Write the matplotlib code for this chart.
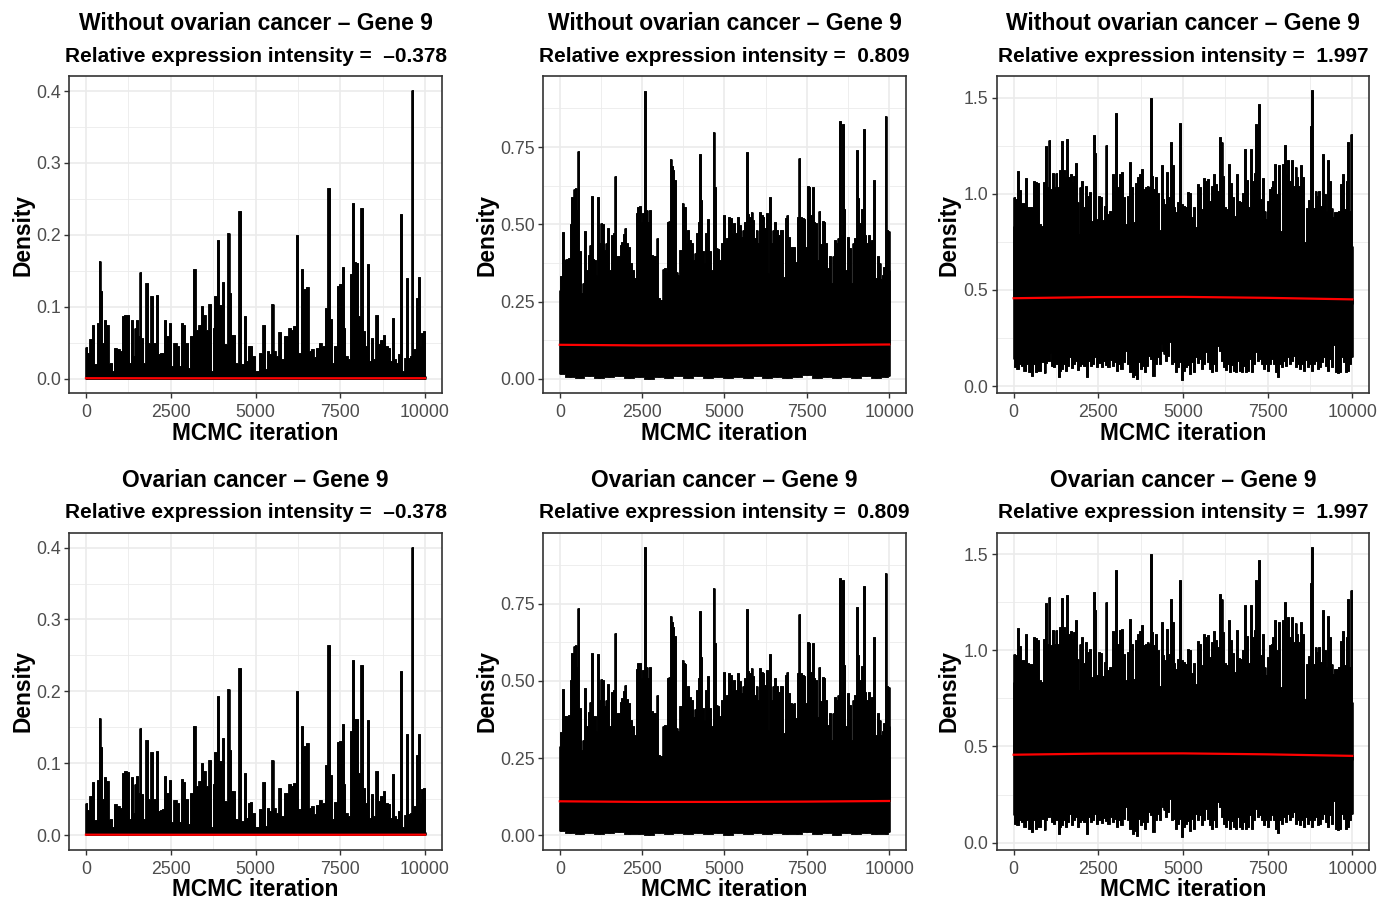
#!/usr/bin/env python3
"""MCMC trace plots - gene 9, three expression intensities, two groups"""
import numpy as np
import matplotlib
matplotlib.use("Agg")
import matplotlib.pyplot as plt

plt.rcParams['font.family'] = ['Liberation Sans', 'DejaVu Sans']

row_titles = ["Without ovarian cancer – Gene 9", "Ovarian cancer – Gene 9"]
intensity = ["–0.378", "0.809", "1.997"]
x_ticks = [0, 2500, 5000, 7500, 10000]

# ── traces: (iteration, value) of the upper / lower edge ──
trace1_hi = [
    (0, 0.044), (69, 0.035), (138, 0.055), (217, 0.074), (286, 0.021), (364, 0.077),
    (404, 0.163), (453, 0.122), (512, 0.050), (561, 0.081), (630, 0.075), (729, 0.022),
    (788, 0.011), (857, 0.043), (955, 0.041), (1024, 0.038), (1084, 0.087), (1152, 0.089),
    (1251, 0.088), (1300, 0.022), (1349, 0.081), (1418, 0.031), (1458, 0.071), (1517, 0.082),
    (1556, 0.059), (1606, 0.149), (1655, 0.057), (1714, 0.022), (1793, 0.133), (1842, 0.050),
    (1940, 0.115), (2009, 0.050), (2098, 0.117), (2157, 0.034), (2216, 0.035), (2285, 0.036),
    (2344, 0.082), (2403, 0.059), (2472, 0.077), (2531, 0.018), (2630, 0.049), (2728, 0.045),
    (2758, 0.018), (2837, 0.078), (2896, 0.074), (2975, 0.050), (3024, 0.015), (3103, 0.059),
    (3201, 0.152), (3270, 0.068), (3349, 0.075), (3418, 0.101), (3487, 0.089), (3566, 0.068),
    (3645, 0.104), (3713, 0.011), (3763, 0.071), (3812, 0.115), (3901, 0.193), (3960, 0.103),
    (4039, 0.135), (4107, 0.048), (4206, 0.203), (4255, 0.119), (4314, 0.061), (4373, 0.061),
    (4433, 0.022), (4531, 0.233), (4600, 0.020), (4698, 0.087), (4748, 0.024), (4817, 0.045),
    (4866, 0.046), (4945, 0.031), (5024, 0.011), (5073, 0.011), (5142, 0.036), (5240, 0.074),
    (5319, 0.013), (5358, 0.038), (5437, 0.034), (5506, 0.104), (5555, 0.038), (5634, 0.031),
    (5713, 0.065), (5782, 0.027), (5880, 0.059), (5930, 0.059), (6009, 0.071), (6077, 0.068),
    (6146, 0.073), (6225, 0.200), (6284, 0.036), (6373, 0.152), (6452, 0.124), (6531, 0.128),
    (6600, 0.038), (6668, 0.041), (6767, 0.030), (6816, 0.042), (6915, 0.049), (7013, 0.045),
    (7082, 0.098), (7161, 0.265), (7230, 0.083), (7289, 0.022), (7358, 0.046), (7447, 0.129),
    (7506, 0.131), (7575, 0.155), (7624, 0.071), (7683, 0.031), (7762, 0.027), (7821, 0.145),
    (7890, 0.244), (7939, 0.162), (8008, 0.161), (8057, 0.087), (8136, 0.237), (8195, 0.066),
    (8274, 0.045), (8313, 0.160), (8373, 0.024), (8441, 0.057), (8500, 0.027), (8570, 0.089),
    (8638, 0.048), (8707, 0.054), (8786, 0.061), (8865, 0.045), (8934, 0.043), (9003, 0.024),
    (9062, 0.085), (9111, 0.027), (9180, 0.022), (9229, 0.034), (9298, 0.229), (9358, 0.011),
    (9426, 0.028), (9476, 0.140), (9535, 0.029), (9594, 0.031), (9623, 0.401), (9692, 0.041),
    (9752, 0.112), (9811, 0.141), (9870, 0.045), (9919, 0.064), (9968, 0.066), (10000, 0.004),
]
trace1_lo = [(0, 0.0), (10000, 0.0)]

trace2_hi = [
    (0, 0.288), (30, 0.333), (101, 0.474), (152, 0.385), (203, 0.387), (284, 0.390),
    (334, 0.501), (365, 0.589), (415, 0.578), (446, 0.613), (486, 0.616), (527, 0.546),
    (567, 0.737), (618, 0.412), (679, 0.277), (719, 0.310), (770, 0.478), (810, 0.353),
    (891, 0.400), (922, 0.433), (983, 0.591), (1013, 0.387), (1064, 0.385), (1114, 0.336),
    (1175, 0.587), (1216, 0.439), (1266, 0.505), (1317, 0.501), (1368, 0.417), (1418, 0.439),
    (1469, 0.489), (1520, 0.353), (1580, 0.465), (1641, 0.471), (1682, 0.656), (1742, 0.396),
    (1803, 0.396), (1844, 0.433), (1894, 0.444), (1945, 0.468), (1985, 0.487), (2026, 0.441),
    (2087, 0.428), (2148, 0.374), (2208, 0.353), (2269, 0.326), (2330, 0.538), (2381, 0.557),
    (2431, 0.559), (2482, 0.508), (2532, 0.535), (2573, 0.933), (2634, 0.546), (2684, 0.508),
    (2735, 0.546), (2806, 0.401), (2856, 0.396), (2917, 0.396), (2958, 0.455), (3009, 0.261),
    (3059, 0.256), (3100, 0.256), (3140, 0.355), (3201, 0.358), (3242, 0.347), (3282, 0.508),
    (3323, 0.512), (3363, 0.710), (3403, 0.689), (3444, 0.675), (3495, 0.645), (3546, 0.347),
    (3596, 0.336), (3667, 0.417), (3728, 0.568), (3768, 0.557), (3809, 0.555), (3849, 0.441),
    (3900, 0.482), (3961, 0.449), (4022, 0.439), (4072, 0.383), (4113, 0.408), (4153, 0.471),
    (4214, 0.508), (4255, 0.727), (4295, 0.578), (4336, 0.412), (4397, 0.374), (4437, 0.471),
    (4498, 0.516), (4559, 0.412), (4620, 0.353), (4670, 0.799), (4711, 0.621), (4761, 0.422),
    (4812, 0.419), (4863, 0.385), (4934, 0.439), (4984, 0.530), (5024, 0.444), (5085, 0.455),
    (5136, 0.525), (5197, 0.519), (5247, 0.471), (5298, 0.503), (5359, 0.471), (5419, 0.525),
    (5470, 0.498), (5531, 0.460), (5571, 0.482), (5632, 0.508), (5683, 0.734), (5723, 0.533),
    (5774, 0.525), (5824, 0.541), (5875, 0.514), (5926, 0.455), (5976, 0.482), (6027, 0.439),
    (6078, 0.541), (6128, 0.530), (6179, 0.525), (6230, 0.487), (6280, 0.535), (6331, 0.342),
    (6381, 0.587), (6432, 0.439), (6483, 0.482), (6533, 0.508), (6605, 0.482), (6665, 0.465),
    (6706, 0.482), (6757, 0.482), (6817, 0.331), (6868, 0.519), (6909, 0.530), (6969, 0.460),
    (7020, 0.428), (7071, 0.426), (7121, 0.428), (7172, 0.379), (7223, 0.525), (7273, 0.716),
    (7324, 0.525), (7375, 0.519), (7425, 0.516), (7476, 0.428), (7527, 0.624), (7578, 0.621),
    (7628, 0.530), (7679, 0.621), (7729, 0.508), (7780, 0.503), (7830, 0.383), (7881, 0.544),
    (7932, 0.436), (7982, 0.512), (8033, 0.508), (8083, 0.439), (8154, 0.358), (8205, 0.396),
    (8256, 0.310), (8306, 0.396), (8357, 0.449), (8407, 0.439), (8458, 0.455), (8509, 0.834),
    (8549, 0.465), (8590, 0.826), (8641, 0.551), (8692, 0.353), (8752, 0.460), (8813, 0.422),
    (8864, 0.310), (8914, 0.439), (8965, 0.455), (9016, 0.740), (9066, 0.584), (9117, 0.503),
    (9168, 0.548), (9239, 0.807), (9279, 0.465), (9320, 0.439), (9381, 0.465), (9431, 0.444),
    (9482, 0.448), (9543, 0.643), (9604, 0.326), (9654, 0.396), (9705, 0.374), (9755, 0.323),
    (9796, 0.336), (9847, 0.363), (9887, 0.849), (9928, 0.482), (9979, 0.479), (10000, 0.353),
]
trace2_lo = [
    (0, 0.015), (300, 0.006), (600, 0.004), (900, 0.008), (1200, 0.003), (1500, 0.006),
    (1800, 0.010), (2100, 0.004), (2400, 0.005), (2700, 0.000), (3000, 0.006), (3300, 0.003),
    (3600, 0.008), (3900, 0.004), (4200, 0.009), (4500, 0.003), (4800, 0.006), (5100, 0.002),
    (5400, 0.007), (5700, 0.004), (6000, 0.009), (6300, 0.003), (6600, 0.006), (6900, 0.003),
    (7200, 0.005), (7500, 0.011), (7800, 0.004), (8100, 0.007), (8400, 0.001), (8700, 0.006),
    (9000, 0.004), (9300, 0.008), (9600, 0.003), (9900, 0.005), (10000, 0.010),
]

trace3_hi = [
    (0, 0.835), (20, 0.983), (79, 0.974), (138, 1.118), (197, 1.021), (256, 0.951),
    (305, 0.951), (355, 1.083), (414, 0.934), (473, 0.931), (532, 0.931), (591, 1.069),
    (650, 1.064), (719, 1.056), (788, 0.844), (847, 0.833), (906, 1.061), (955, 1.247),
    (1005, 1.035), (1054, 1.278), (1103, 1.026), (1162, 1.108), (1211, 1.035), (1261, 1.108),
    (1310, 1.035), (1379, 1.122), (1428, 1.274), (1477, 1.122), (1527, 1.087), (1576, 1.286),
    (1635, 1.087), (1684, 1.101), (1734, 1.061), (1773, 1.095), (1832, 1.160), (1891, 0.957),
    (1921, 0.792), (1970, 1.035), (2029, 1.069), (2088, 0.934), (2147, 1.043), (2206, 0.991),
    (2266, 1.009), (2325, 0.861), (2364, 1.304), (2413, 1.212), (2462, 0.870), (2522, 0.991),
    (2581, 0.986), (2640, 0.865), (2699, 0.939), (2738, 1.252), (2797, 0.896), (2857, 0.913),
    (2926, 1.101), (2975, 1.014), (3034, 1.420), (3083, 1.035), (3152, 1.104), (3202, 1.113),
    (3251, 0.983), (3310, 0.844), (3369, 0.991), (3428, 1.165), (3487, 1.035), (3546, 0.852),
    (3615, 1.056), (3674, 1.087), (3743, 1.101), (3802, 1.130), (3861, 1.026), (3911, 1.035),
    (3960, 1.043), (3999, 1.035), (4048, 1.500), (4098, 1.095), (4147, 1.026), (4196, 1.087),
    (4255, 1.003), (4315, 0.813), (4374, 1.148), (4423, 0.974), (4482, 0.948), (4531, 1.113),
    (4581, 0.983), (4640, 1.269), (4699, 1.148), (4748, 0.934), (4807, 0.905), (4857, 0.957),
    (4916, 1.368), (4965, 0.948), (5024, 0.939), (5083, 0.931), (5142, 1.009), (5201, 1.003),
    (5261, 0.882), (5320, 0.934), (5379, 0.826), (5438, 1.049), (5497, 1.035), (5556, 0.922),
    (5615, 1.083), (5674, 1.069), (5734, 1.078), (5793, 0.965), (5852, 1.043), (5911, 1.101),
    (5970, 1.052), (6029, 1.017), (6088, 1.295), (6138, 1.269), (6187, 1.095), (6246, 0.934),
    (6305, 0.922), (6364, 1.156), (6423, 1.056), (6482, 0.986), (6541, 0.887), (6600, 1.104),
    (6659, 0.962), (6718, 0.957), (6777, 1.003), (6836, 1.234), (6895, 1.073), (6954, 0.934),
    (7013, 1.234), (7062, 1.069), (7112, 1.108), (7161, 1.365), (7200, 1.347), (7250, 1.469),
    (7289, 0.974), (7348, 1.083), (7407, 0.913), (7456, 0.870), (7516, 0.965), (7565, 1.026),
    (7614, 1.035), (7664, 1.069), (7723, 1.156), (7782, 1.000), (7831, 1.148), (7890, 0.809),
    (7940, 1.156), (7999, 1.252), (8058, 1.104), (8107, 1.174), (8166, 1.069), (8225, 1.174),
    (8274, 1.043), (8324, 1.142), (8373, 1.087), (8432, 1.043), (8491, 1.148), (8550, 1.087),
    (8609, 0.748), (8668, 0.927), (8717, 0.969), (8767, 1.351), (8816, 1.538), (8865, 0.927),
    (8914, 1.017), (8963, 0.991), (9022, 1.017), (9081, 0.939), (9131, 1.208), (9180, 1.000),
    (9239, 0.913), (9288, 1.177), (9338, 1.069), (9387, 0.927), (9436, 0.878), (9495, 0.905),
    (9554, 0.905), (9613, 0.913), (9672, 1.049), (9722, 1.101), (9771, 0.922), (9830, 1.069),
    (9879, 1.269), (9929, 0.913), (9968, 1.313), (10000, 0.731),
]
trace3_lo = [
    (0, 0.141), (49, 0.097), (118, 0.089), (197, 0.115), (256, 0.106), (325, 0.080),
    (394, 0.115), (473, 0.071), (532, 0.054), (591, 0.115), (660, 0.071), (729, 0.080),
    (788, 0.080), (857, 0.123), (916, 0.066), (965, 0.118), (1034, 0.132), (1084, 0.170),
    (1143, 0.106), (1202, 0.097), (1261, 0.115), (1330, 0.045), (1379, 0.080), (1438, 0.089),
    (1497, 0.115), (1556, 0.080), (1615, 0.106), (1675, 0.149), (1734, 0.094), (1793, 0.115),
    (1852, 0.132), (1911, 0.083), (1970, 0.106), (2029, 0.115), (2088, 0.106), (2157, 0.045),
    (2226, 0.132), (2285, 0.106), (2344, 0.115), (2403, 0.149), (2462, 0.097), (2531, 0.118),
    (2600, 0.101), (2659, 0.128), (2728, 0.111), (2797, 0.097), (2866, 0.135), (2935, 0.106),
    (2994, 0.123), (3054, 0.080), (3113, 0.115), (3182, 0.089), (3251, 0.123), (3320, 0.184),
    (3388, 0.115), (3448, 0.071), (3517, 0.045), (3586, 0.059), (3645, 0.036), (3704, 0.123),
    (3763, 0.089), (3822, 0.106), (3881, 0.071), (3940, 0.106), (3999, 0.158), (4058, 0.141),
    (4127, 0.054), (4196, 0.115), (4255, 0.149), (4315, 0.115), (4374, 0.219), (4413, 0.184),
    (4453, 0.167), (4512, 0.132), (4571, 0.158), (4630, 0.227), (4679, 0.115), (4738, 0.123),
    (4787, 0.071), (4846, 0.097), (4906, 0.123), (4965, 0.031), (5024, 0.080), (5083, 0.097),
    (5142, 0.111), (5201, 0.062), (5261, 0.123), (5320, 0.071), (5379, 0.149), (5438, 0.118),
    (5497, 0.141), (5556, 0.089), (5615, 0.115), (5674, 0.175), (5734, 0.123), (5793, 0.089),
    (5852, 0.071), (5911, 0.115), (5970, 0.080), (6029, 0.210), (6088, 0.184), (6147, 0.132),
    (6206, 0.097), (6266, 0.083), (6325, 0.115), (6384, 0.071), (6443, 0.111), (6502, 0.080),
    (6561, 0.071), (6620, 0.132), (6679, 0.080), (6738, 0.071), (6797, 0.106), (6856, 0.071),
    (6915, 0.080), (6974, 0.141), (7033, 0.071), (7092, 0.115), (7151, 0.175), (7210, 0.132),
    (7269, 0.141), (7329, 0.115), (7388, 0.089), (7447, 0.115), (7506, 0.080), (7565, 0.115),
    (7624, 0.141), (7683, 0.115), (7743, 0.071), (7802, 0.049), (7861, 0.115), (7920, 0.097),
    (7979, 0.132), (8038, 0.106), (8097, 0.149), (8156, 0.115), (8215, 0.132), (8274, 0.158),
    (8333, 0.097), (8392, 0.115), (8452, 0.089), (8511, 0.115), (8570, 0.080), (8629, 0.135),
    (8688, 0.097), (8747, 0.115), (8806, 0.080), (8865, 0.115), (8924, 0.132), (8983, 0.089),
    (9042, 0.097), (9101, 0.123), (9160, 0.149), (9219, 0.106), (9279, 0.080), (9338, 0.141),
    (9397, 0.097), (9456, 0.215), (9515, 0.071), (9574, 0.066), (9633, 0.071), (9692, 0.149),
    (9751, 0.123), (9810, 0.071), (9869, 0.080), (9929, 0.115), (9978, 0.149), (10000, 0.427),
]

# loess trend (red)
trend_it = [0, 2500, 5000, 7500, 10000]
trend1 = [0.0006, 0.0005, 0.0005, 0.0005, 0.0006]
trend2 = [0.110, 0.108, 0.108, 0.109, 0.111]
trend3 = [0.457, 0.463, 0.464, 0.459, 0.451]

traces = [(trace1_hi, trace1_lo, trend1),
          (trace2_hi, trace2_lo, trend2),
          (trace3_hi, trace3_lo, trend3)]

y_ticks = [[0.0, 0.1, 0.2, 0.3, 0.4], [0.0, 0.25, 0.5, 0.75], [0.0, 0.5, 1.0, 1.5]]
y_fmt = ["{:.1f}", "{:.2f}", "{:.1f}"]
y_lim = [(-0.02, 0.421), (-0.046, 0.98), (-0.036, 1.613)]

# ── layout (pixels of a 1382x902 canvas) ─────────────────
W, H = 1382, 902
col_left = [69, 543.3, 996.7]
col_width = [373, 362.4, 372.6]
row_top = [76, 532.5]
ax_h = 317
ylab_x = [23, 487, 949]


def draw_trace(ax, hi, lo, trend):
    hx, hy = np.array(hi).T
    lx, ly = np.array(lo).T
    mid = float(np.mean(trend))
    ax.fill_between(hx, mid, hy, step='mid', color='black', lw=0.6, zorder=2)
    ax.fill_between(lx, ly, mid, step='mid', color='black', lw=0.6, zorder=2)
    ax.vlines(hx, mid, hy, color='black', lw=1.9, zorder=2)
    ax.vlines(lx, ly, mid, color='black', lw=1.9, zorder=2)
    ax.plot(trend_it, trend, color='red', lw=1.6, zorder=3)


fig = plt.figure(figsize=(W / 100, H / 100), dpi=100)

for r in range(2):
    for c in range(3):
        left = col_left[c] / W
        bottom = 1 - (row_top[r] + ax_h) / H
        ax = fig.add_axes([left, bottom, col_width[c] / W, ax_h / H])
        hi, lo, trend = traces[c]
        draw_trace(ax, hi, lo, trend)

        ax.set_xticks(x_ticks)
        ax.set_xticklabels([str(t) for t in x_ticks])
        ax.set_xticks([1250, 3750, 6250, 8750], minor=True)
        yt = y_ticks[c]
        ax.set_yticks(yt)
        ax.set_yticklabels([y_fmt[c].format(v) for v in yt])
        step = yt[1] - yt[0]
        ax.set_yticks([v + step / 2 for v in yt], minor=True)
        # limits after the ticks, so minor ticks do not widen the view
        ax.set_xlim(-500, 10500)
        ax.set_ylim(*y_lim[c])

        ax.set_axisbelow(True)
        ax.grid(which='major', color='#EBEBEB', lw=1.2)
        ax.grid(which='minor', color='#EBEBEB', lw=0.6)
        for s in ax.spines.values():
            s.set_color('#333333')
            s.set_linewidth(1.2)
        ax.tick_params(which='major', length=3.5, width=1, color='#333333',
                       labelcolor='#4D4D4D', labelsize=12.8, pad=2.5)
        ax.tick_params(axis='x', which='major', pad=4.5)
        ax.tick_params(which='minor', length=0)

        ax.set_xlabel("MCMC iteration", fontsize=16.4, fontweight='bold')
        ax.xaxis.set_label_coords(0.5, -40 / ax_h)
        ax.xaxis.label.set_va('center')
        ax.set_ylabel("Density", fontsize=16.4, fontweight='bold')
        ax.yaxis.set_label_coords((ylab_x[c] - col_left[c]) / col_width[c], 0.5)
        ax.yaxis.label.set_va('center')

        ax.text(0.5, 1 + 52 / ax_h, row_titles[r], transform=ax.transAxes,
                ha='center', va='center', fontsize=16.5, fontweight='bold')
        ax.text(0.5, 1 + 20 / ax_h, "Relative expression intensity =  " + intensity[c],
                transform=ax.transAxes, ha='center', va='center',
                fontsize=15, fontweight='bold')

fig.savefig("out.png", dpi=100)
